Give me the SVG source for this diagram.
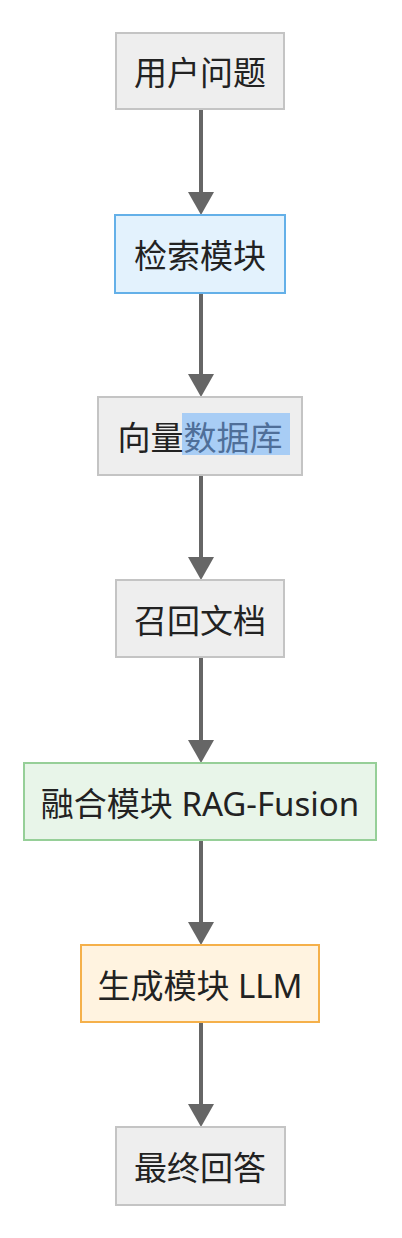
<svg xmlns="http://www.w3.org/2000/svg" width="402" height="1238" viewBox="0 0 402 1238">
<style>
.n{stroke-width:2}
.g{fill:#eeeeee;stroke:#c4c4c4}
.b{fill:#e3f2fd;stroke:#64b0e8}
.gr{fill:#e8f5e9;stroke:#96cf98}
.o{fill:#fff3e0;stroke:#f5b04a}
.t{font-family:"Noto Sans","Noto Sans CJK SC",sans-serif;font-size:33px;fill:#222;text-anchor:middle;dominant-baseline:central}
.e{stroke:#666;stroke-width:4;fill:none}
.h{fill:#666}
</style>
<rect width="402" height="1238" fill="#ffffff"/>
<g id="connectors">
<line class="e" x1="201" y1="109" x2="201" y2="194"/><polygon class="h" points="188,192 214,192 201,215"/>
<line class="e" x1="201" y1="293" x2="201" y2="376"/><polygon class="h" points="188,374 214,374 201,397"/>
<line class="e" x1="201" y1="475" x2="201" y2="559"/><polygon class="h" points="188,557 214,557 201,580"/>
<line class="e" x1="201" y1="657" x2="201" y2="742"/><polygon class="h" points="188,740 214,740 201,763"/>
<line class="e" x1="201" y1="840" x2="201" y2="924"/><polygon class="h" points="188,922 214,922 201,945"/>
<line class="e" x1="201" y1="1022" x2="201" y2="1106"/><polygon class="h" points="188,1104 214,1104 201,1127"/>
</g>
<g id="n1"><rect class="n g" x="116" y="33" width="168" height="76"/><text class="t" x="200" y="72">用户问题</text></g>
<g id="n2"><rect class="n b" x="115" y="215" width="170" height="78"/><text class="t" x="200" y="255">检索模块</text></g>
<g id="n3"><rect class="n g" x="98" y="397" width="204" height="78"/><rect x="182" y="413" width="108" height="42" fill="#a8cdf5"/><text class="t" x="200" y="437">向量<tspan fill="#4f6f99">数据库</tspan></text></g>
<g id="n4"><rect class="n g" x="116" y="580" width="168" height="77"/><text class="t" x="200" y="620">召回文档</text></g>
<g id="n5"><rect class="n gr" x="24" y="763" width="352" height="77"/><text class="t" x="200" y="803">融合模块 RAG-Fusion</text></g>
<g id="n6"><rect class="n o" x="81" y="945" width="238" height="77"/><text class="t" x="200" y="985">生成模块 LLM</text></g>
<g id="n7"><rect class="n g" x="116" y="1127" width="169" height="78"/><text class="t" x="200" y="1167">最终回答</text></g>
</svg>
